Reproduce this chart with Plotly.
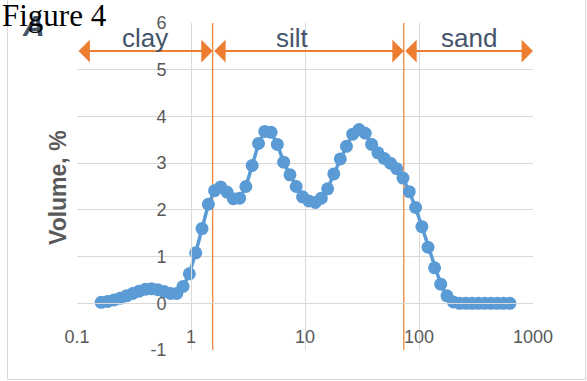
import math
import plotly.graph_objects as go

# Particle size classes (µm) and volume fraction (%) per class
particle_size_um = [
    0.163, 0.186, 0.211, 0.239, 0.272, 0.308, 0.35, 0.398, 0.451, 0.512,
    0.582, 0.661, 0.75, 0.852, 0.967, 1.1, 1.25, 1.42, 1.61, 1.82,
    2.07, 2.35, 2.67, 3.03, 3.44, 3.91, 4.44, 5.04, 5.72, 6.5,
    7.38, 8.37, 9.51, 10.8, 12.3, 13.9, 15.8, 17.9, 20.4, 23.1,
    26.2, 29.8, 33.8, 38.4, 43.6, 49.5, 56.2, 63.8, 72.4, 82.2,
    93.3, 106, 120, 137, 155, 176, 200, 227, 258, 292,
    332, 377, 428, 486, 552, 627,
]
volume_pct = [
    0.02, 0.04, 0.07, 0.11, 0.16, 0.21, 0.26, 0.30, 0.31, 0.29,
    0.25, 0.21, 0.21, 0.36, 0.63, 1.08, 1.60, 2.12, 2.41, 2.49,
    2.38, 2.24, 2.25, 2.50, 2.95, 3.42, 3.68, 3.66, 3.40, 3.02,
    2.75, 2.50, 2.28, 2.19, 2.16, 2.25, 2.45, 2.77, 3.09, 3.36,
    3.62, 3.72, 3.64, 3.40, 3.22, 3.10, 3.00, 2.88, 2.68, 2.39,
    2.05, 1.64, 1.20, 0.76, 0.41, 0.16, 0.03, 0.0, 0.0, 0.0,
    0.0, 0.0, 0.0, 0.0, 0.0, 0.0,
]

# Size-class boundaries (µm)
x_min, clay_silt, silt_sand, x_max = 0.1, 1.55, 73.5, 1000
class_names = ["clay", "silt", "sand"]

x_ticks = [0.1, 1, 10, 100, 1000]
x_tick_text = ["0.1", "1", "10", "100", "1000"]
y_ticks = [-1, 0, 1, 2, 3, 4, 5, 6]
y_tick_text = ["-1", "0", "1", "2", "3", "4", "5", "6"]

ORANGE = "#ED7D31"
BLUE = "#5B9BD5"
GRID = "#D9D9D9"
TICK = "#595959"
SLATE = "#44546A"

fig = go.Figure()

# Boundary lines between size classes
for b in (clay_silt, silt_sand):
    fig.add_trace(go.Scatter(
        x=[b, b], y=[-1, 6], mode="lines",
        line=dict(color=ORANGE, width=1.2), hoverinfo="skip",
    ))

fig.add_trace(go.Scatter(
    x=particle_size_um, y=volume_pct, mode="lines+markers",
    line=dict(color=BLUE, width=3.5),
    marker=dict(color=BLUE, size=13),
))

# Double-headed range arrows
annotations = []
edges = [x_min, clay_silt, silt_sand, x_max]
for a, b in zip(edges[:-1], edges[1:]):
    annotations.append(dict(
        x=math.log10(b), y=5.4, ax=math.log10(a), ay=5.4,
        xref="x", yref="y", axref="x", ayref="y",
        text="", showarrow=True, arrowhead=1, arrowside="end+start",
        arrowsize=1.9, arrowwidth=2, arrowcolor=ORANGE,
        standoff=0, startstandoff=0,
    ))

W, H = 456, 327
L, T = 77, 23


def px(xp):
    return (xp - L) / W


def py(yp):
    return (T + H - yp) / H


label_font = dict(family="Liberation Sans, Arial", size=26, color=SLATE)
for name, cx in zip(class_names, (145, 292, 468.5)):
    annotations.append(dict(
        x=px(cx), y=py(37.5), xref="paper", yref="paper", text=name,
        showarrow=False, xanchor="center", yanchor="middle", font=label_font,
    ))

annotations.append(dict(
    x=px(58), y=py(188), xref="paper", yref="paper", text="<b>Volume, %</b>",
    textangle=-90, showarrow=False, xanchor="center", yanchor="middle",
    font=dict(family="Liberation Sans, Arial", size=23, color=TICK),
))
annotations.append(dict(
    x=px(33), y=py(25), xref="paper", yref="paper", text="<b><i>A</i></b>",
    showarrow=False, xanchor="center", yanchor="middle",
    font=dict(family="Liberation Sans, Arial", size=30, color=SLATE),
))
annotations.append(dict(
    x=px(0), y=py(15.5), xref="paper", yref="paper", text="Figure 4",
    showarrow=False, xanchor="left", yanchor="middle",
    font=dict(family="Liberation Serif, Times New Roman", size=31, color="black"),
))

tick_font = dict(family="Liberation Sans, Arial", size=18, color=TICK)

fig.update_layout(
    width=587, height=381,
    margin=dict(l=L, r=587 - L - W, t=T, b=381 - T - H),
    paper_bgcolor="white", plot_bgcolor="white",
    showlegend=False,
    annotations=annotations,
    shapes=[dict(
        type="rect", xref="paper", yref="paper",
        x0=px(7.5), x1=px(585.5), y0=py(379.5), y1=py(-5),
        line=dict(color=GRID, width=1), fillcolor="rgba(0,0,0,0)",
    )],
    xaxis=dict(
        type="log", range=[math.log10(x_min), math.log10(x_max)],
        tickvals=x_ticks, ticktext=x_tick_text, tickfont=tick_font,
        showgrid=True, gridcolor=GRID, gridwidth=1,
        anchor="free", position=1 / 7,
        showline=True, linecolor=GRID, linewidth=1,
        ticks="", ticklabelstandoff=17, zeroline=False,
    ),
    yaxis=dict(
        range=[-1, 6], tickvals=y_ticks, ticktext=y_tick_text, tickfont=tick_font,
        showgrid=True, gridcolor=GRID, gridwidth=1,
        anchor="free", position=0.25,
        showline=True, linecolor=GRID, linewidth=1,
        ticks="", ticklabelstandoff=21, zeroline=False,
    ),
)

fig.write_html("out.html")
